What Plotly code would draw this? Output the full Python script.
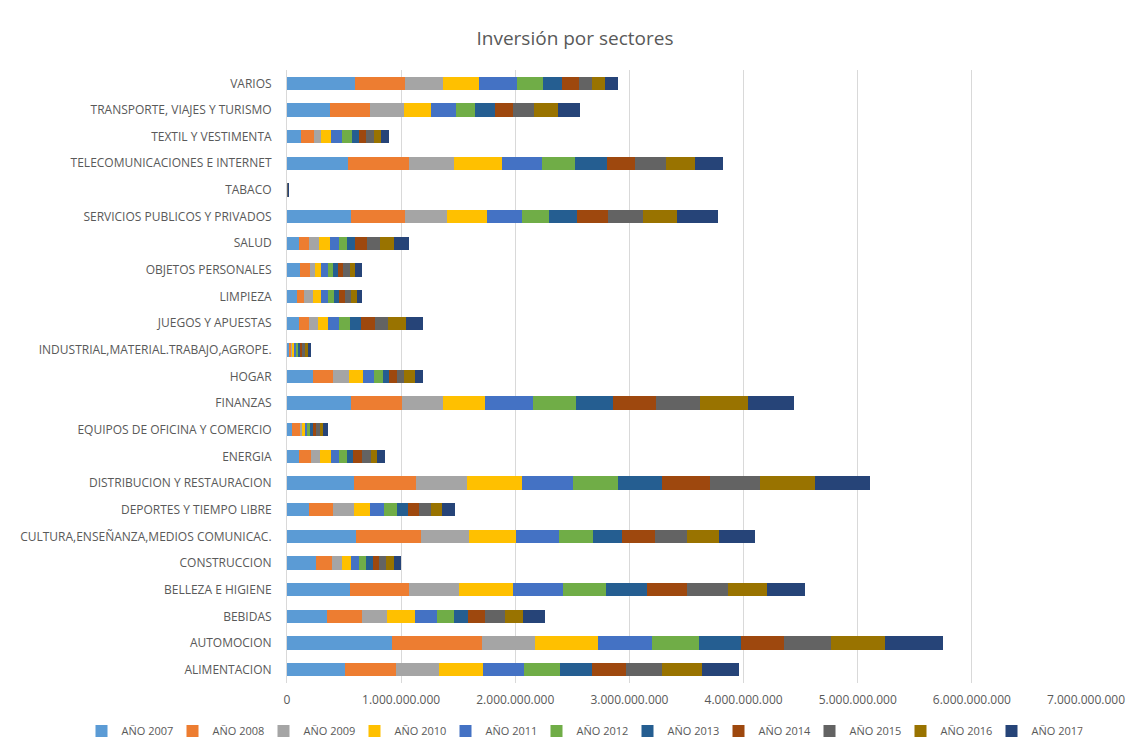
import plotly.graph_objects as go

# Sectors, listed bottom-to-top on the category axis
sectores = [
    "ALIMENTACION", "AUTOMOCION", "BEBIDAS", "BELLEZA E HIGIENE", "CONSTRUCCION",
    "CULTURA,ENSEÑANZA,MEDIOS COMUNICAC.", "DEPORTES Y TIEMPO LIBRE",
    "DISTRIBUCION Y RESTAURACION", "ENERGIA", "EQUIPOS DE OFICINA Y COMERCIO",
    "FINANZAS", "HOGAR", "INDUSTRIAL,MATERIAL.TRABAJO,AGROPE.", "JUEGOS Y APUESTAS",
    "LIMPIEZA", "OBJETOS PERSONALES", "SALUD", "SERVICIOS PUBLICOS Y PRIVADOS",
    "TABACO", "TELECOMUNICACIONES E INTERNET", "TEXTIL Y VESTIMENTA",
    "TRANSPORTE, VIAJES Y TURISMO", "VARIOS",
]

# Investment per year and sector, in millions
anio_2007 = [512, 923, 353, 551, 258, 608, 197, 585, 109, 47, 563, 225, 23, 102, 88, 116, 102, 563, 1, 534, 123, 379, 598]
anio_2008 = [444, 786, 304, 520, 140, 569, 209, 541, 100, 63, 447, 181, 15, 94, 58, 88, 94, 473, 1, 531, 110, 344, 438]
anio_2009 = [372, 467, 221, 437, 83, 418, 179, 454, 78, 25, 360, 135, 12, 76, 79, 44, 81, 365, 1, 394, 67, 298, 327]
anio_2010 = [387, 546, 243, 475, 76, 410, 144, 478, 97, 22, 366, 122, 15, 88, 76, 53, 102, 350, 1, 424, 88, 243, 321]
anio_2011 = [364, 478, 190, 433, 76, 376, 122, 451, 69, 22, 416, 97, 15, 99, 59, 59, 79, 306, 1, 350, 94, 219, 330]
anio_2012 = [312, 406, 152, 376, 57, 296, 113, 394, 69, 25, 382, 84, 15, 96, 49, 40, 67, 242, 1, 292, 88, 166, 233]
anio_2013 = [285, 372, 125, 364, 60, 258, 94, 381, 56, 22, 319, 53, 18, 94, 50, 47, 73, 240, 1, 278, 58, 169, 164]
anio_2014 = [296, 380, 148, 349, 53, 292, 100, 423, 78, 31, 378, 66, 20, 125, 53, 44, 102, 271, 1, 248, 61, 166, 146]
anio_2015 = [312, 406, 174, 357, 60, 278, 100, 438, 84, 31, 391, 62, 26, 111, 50, 58, 116, 306, 2, 271, 70, 181, 119]
anio_2016 = [353, 478, 159, 346, 72, 281, 103, 484, 50, 31, 413, 100, 23, 158, 53, 50, 125, 298, 2, 254, 65, 208, 114]
anio_2017 = [323, 509, 190, 330, 68, 315, 109, 476, 69, 41, 407, 69, 32, 145, 44, 59, 131, 364, 3, 248, 67, 195, 109]

series = [
    ("AÑO 2007", anio_2007), ("AÑO 2008", anio_2008), ("AÑO 2009", anio_2009),
    ("AÑO 2010", anio_2010), ("AÑO 2011", anio_2011), ("AÑO 2012", anio_2012),
    ("AÑO 2013", anio_2013), ("AÑO 2014", anio_2014), ("AÑO 2015", anio_2015),
    ("AÑO 2016", anio_2016), ("AÑO 2017", anio_2017),
]

colores = ["#5B9BD5", "#ED7D31", "#A5A5A5", "#FFC000", "#4472C4", "#70AD47",
           "#255E91", "#9E480E", "#636363", "#997300", "#264478"]

tick_vals = [0, 1e9, 2e9, 3e9, 4e9, 5e9, 6e9, 7e9]
tick_text = ["0", "1.000.000.000", "2.000.000.000", "3.000.000.000",
             "4.000.000.000", "5.000.000.000", "6.000.000.000", "7.000.000.000"]

FONT = "Open Sans, sans-serif"
GRIS = "#595959"

W, H = 1145, 738
ML, MR, MT, MB = 20, 20, 70, 55
EJE_X0, EJE_X1 = 287, 1086  # value axis span, in px

fig = go.Figure()
for (nombre, valores), color in zip(series, colores):
    fig.add_trace(go.Bar(
        y=sectores,
        x=[v * 1e6 for v in valores],
        name=nombre,
        orientation="h",
        marker=dict(color=color, line=dict(width=0)),
    ))

ancho = W - ML - MR
fig.update_layout(
    barmode="stack",
    bargap=0.5,
    width=W,
    height=H,
    margin=dict(l=ML, r=MR, t=MT, b=MB, autoexpand=False),
    paper_bgcolor="white",
    plot_bgcolor="white",
    title=dict(
        text="Inversión por sectores",
        x=575 / W, xref="container", xanchor="center",
        y=1 - 38 / H, yref="container", yanchor="middle",
        font=dict(family=FONT, size=19, color=GRIS),
    ),
    font=dict(family=FONT, size=12, color=GRIS),
    xaxis=dict(
        domain=[(EJE_X0 - ML) / ancho, (EJE_X1 - ML) / ancho],
        range=[0, 7e9],
        tickvals=tick_vals,
        ticktext=tick_text,
        showgrid=True,
        gridcolor="#D9D9D9",
        gridwidth=1,
        zeroline=False,
        showline=False,
        ticks="",
        ticklabelstandoff=8,
        tickfont=dict(family=FONT, size=12, color=GRIS),
        fixedrange=True,
    ),
    yaxis=dict(
        categoryorder="array",
        categoryarray=sectores,
        showgrid=False,
        zeroline=False,
        showline=True,
        linecolor="#D9D9D9",
        linewidth=1,
        ticks="",
        ticklabelstandoff=12,
        tickfont=dict(family=FONT, size=12, color=GRIS),
        fixedrange=True,
    ),
    legend=dict(
        orientation="h",
        xref="container", yref="container",
        x=582 / W, xanchor="center",
        y=7 / H, yanchor="middle",
        font=dict(family=FONT, size=11, color=GRIS),
        itemwidth=30,
        entrywidth=46,
        entrywidthmode="pixels",
        traceorder="normal",
    ),
    showlegend=True,
)

fig.write_html("out.html")
